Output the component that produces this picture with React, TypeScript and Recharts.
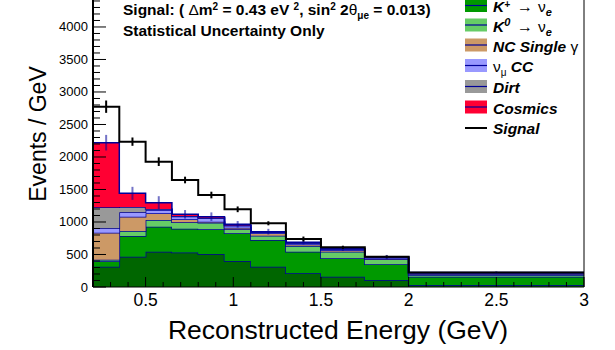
import React from 'react';
import { ComposedChart, Area, Line, Scatter, ErrorBar, XAxis, YAxis, ReferenceLine } from 'recharts';

// Bin edges (GeV) and per-sample events / GeV
const binEdges = [0.2, 0.35, 0.5, 0.65, 0.8, 0.95, 1.1, 1.3, 1.5, 1.75, 2.0, 3.0];
const muNue = [310, 467, 543, 530, 508, 400, 312, 210, 159, 108, 31];
const kPlusNue = [85, 318, 385, 365, 382, 426, 411, 333, 282, 241, 128];
const kZeroNue = [25, 77, 103, 100, 100, 62, 66, 88, 102, 77, 26];
const ncSingleGamma = [415, 220, 102, 46, 15, 24, 37, 24, 22, 14, 15];
const numuCC = [68, 67, 52, 44, 51, 31, 15, 15, 20, 15, 18];
const dirt = [323, 81, 15, 7, 9, 7, 4, 5, 3, 3, 2];
const cosmics = [994, 211, 97, 26, 17, 14, 6, 12, 4, 2, 2];
const signal = [554, 795, 631, 528, 333, 231, 129, 51, 18, 4, 2];
const bgError = [120, 100, 100, 66, 66, 51, 44, 33, 38, 33, 15];
const totalError = [95, 64, 67, 51, 51, 44, 31, 38, 25, 20, 10];

const xTicks = [0.2, 0.3, 0.4, 0.5, 0.6, 0.7, 0.8, 0.9, 1, 1.1, 1.2, 1.3, 1.4, 1.5, 1.6, 1.7, 1.8, 1.9, 2,
  2.1, 2.2, 2.3, 2.4, 2.5, 2.6, 2.7, 2.8, 2.9, 3];
const yMajorTicks = [0, 500, 1000, 1500, 2000, 2500, 3000, 3500, 4000];
const yTicks = Array.from({ length: 45 }, (_, i) => i * 100);

const FONT = '"Liberation Sans", Arial, Helvetica, sans-serif';
const OUTLINE = '#000099';

const series = [
  { key: 'muNue', values: muNue, color: '#006600' },
  { key: 'kPlusNue', values: kPlusNue, color: '#009900' },
  { key: 'kZeroNue', values: kZeroNue, color: '#66cc66' },
  { key: 'ncSingleGamma', values: ncSingleGamma, color: '#cc9966' },
  { key: 'numuCC', values: numuCC, color: '#9999ff' },
  { key: 'dirt', values: dirt, color: '#999999' },
  { key: 'cosmics', values: cosmics, color: '#ff0033' },
];

// one row per bin lower edge, plus a closing row at the last edge
const rows = binEdges.map((edge, i) => {
  const b = Math.min(i, signal.length - 1);
  const row: Record<string, number> = { x: edge };
  let bg = 0;
  series.forEach(s => {
    row[s.key] = s.values[b];
    bg += s.values[b];
  });
  row.background = bg;
  row.total = bg + signal[b];
  return row;
});

const binRows = rows.slice(0, signal.length).map((r, i) => ({
  center: (binEdges[i] + binEdges[i + 1]) / 2,
  background: r.background,
  total: r.total,
}));
const bgPoints = binRows.map((r, i) => ({ x: r.center, y: r.background, err: bgError[i] }));
const totalPoints = binRows.map((r, i) => ({ x: r.center, y: r.total, err: totalError[i] }));

const YTick = (props: any) => {
  const { x, y, payload } = props;
  const v = payload.value;
  const major = yMajorTicks.includes(v);
  return (
    <g>
      <line x1={x} x2={x + (major ? 13 : 7)} y1={y} y2={y} stroke="#000" strokeWidth={1} />
      {major && (
        <text x={x - 5} y={y + 4.5} textAnchor="end" fontSize={13} fill="#000" fontFamily={FONT}>
          {v}
        </text>
      )}
    </g>
  );
};

const XTick = (props: any) => {
  const { x, y, payload } = props;
  const v = payload.value;
  const major = Math.abs(v * 2 - Math.round(v * 2)) < 1e-6;
  return (
    <g>
      <line x1={x} x2={x} y1={y} y2={y - (major ? 10 : 5)} stroke="#000" strokeWidth={1} />
      {major && (
        <text x={x} y={y + 18.5} textAnchor="middle" fontSize={17.5} fill="#000" fontFamily={FONT}>
          {String(v)}
        </text>
      )}
    </g>
  );
};

const hidden = () => <g />;

const legendItems = [
  { color: '#009900', base: 12, name: 'kplus' },
  { color: '#66cc66', base: 31.5, name: 'kzero' },
  { color: '#cc9966', base: 51.5, name: 'nc' },
  { color: '#9999ff', base: 72, name: 'numu' },
  { color: '#999999', base: 93, name: 'dirt' },
  { color: '#ff0033', base: 113.5, name: 'cosmics' },
  { color: null, base: 134, name: 'signal' },
];

function LegendLabel({ name, base }: { name: string; base: number }) {
  const common = { x: 493, y: base, fontSize: 15.5, fontWeight: 'bold', fontStyle: 'italic', fontFamily: FONT, fill: '#000' } as any;
  const arrowNu = (
    <>
      <tspan x={517} fontWeight="normal" fontStyle="normal" fontSize={16}>→</tspan>
      <tspan x={538} fontWeight="normal" fontStyle="normal">ν</tspan>
      <tspan dy={4} fontSize={11}>e</tspan>
    </>
  );
  if (name === 'kplus') {
    return (
      <text {...common}>
        K<tspan dy={-4} fontSize={10}>+</tspan><tspan dy={4}> </tspan>
        {arrowNu}
      </text>
    );
  }
  if (name === 'kzero') {
    return (
      <text {...common}>
        K<tspan dy={-6} fontSize={11}>0</tspan><tspan dy={6}> </tspan>
        {arrowNu}
      </text>
    );
  }
  if (name === 'nc') {
    return (
      <text {...common}>
        NC Single <tspan fontWeight="normal" fontStyle="normal">γ</tspan>
      </text>
    );
  }
  if (name === 'numu') {
    return (
      <text {...common}>
        <tspan fontWeight="normal" fontStyle="normal">ν</tspan>
        <tspan dy={4} fontSize={10} fontWeight="normal" fontStyle="normal">μ</tspan>
        <tspan dy={-4}> CC</tspan>
      </text>
    );
  }
  const label = name === 'dirt' ? 'Dirt' : name === 'cosmics' ? 'Cosmics' : 'Signal';
  return <text {...common}>{label}</text>;
}

function Overlay() {
  return (
    <svg width={615} height={350} style={{ position: 'absolute', left: 0, top: 0, pointerEvents: 'none' }}>
      <text x={123} y={14.5} fontSize={15.5} fontWeight="bold" fontFamily={FONT} fill="#000">
        <tspan>Signal: ( </tspan>
        <tspan fontWeight="normal">Δ</tspan>
        <tspan>m</tspan>
        <tspan dy={-5} fontSize={10}>2</tspan>
        <tspan dy={5}> = 0.43 eV </tspan>
        <tspan dy={-5} fontSize={10}>2</tspan>
        <tspan dy={5}>, sin</tspan>
        <tspan dy={-5} fontSize={10}>2</tspan>
        <tspan dy={5}> 2</tspan>
        <tspan fontWeight="normal">θ</tspan>
        <tspan dy={4} fontSize={10}>μe</tspan>
        <tspan dy={-4}> = 0.013)</tspan>
      </text>
      <text x={123} y={35.5} fontSize={15.5} fontWeight="bold" fontFamily={FONT} fill="#000">
        Statistical Uncertainty Only
      </text>

      {legendItems.map(item => (
        <g key={item.name}>
          {item.color ? (
            <>
              <rect x={465} y={item.base - 13} width={22} height={13} fill={item.color} />
              <line x1={465} x2={487} y1={item.base - 6.5} y2={item.base - 6.5} stroke={OUTLINE} strokeWidth={1.2} />
            </>
          ) : (
            <line x1={465} x2={487} y1={item.base - 6} y2={item.base - 6} stroke="#000" strokeWidth={2} />
          )}
          <LegendLabel name={item.name} base={item.base} />
        </g>
      ))}

      <text
        transform="translate(46,134) rotate(-90)"
        textAnchor="middle"
        fontSize={23}
        fontFamily={FONT}
        fill="#000"
      >
        Events / GeV
      </text>
      <text x={338} y={339} textAnchor="middle" fontSize={26.5} fontFamily={FONT} fill="#000">
        Reconstructed Energy (GeV)
      </text>
    </svg>
  );
}

export default function App() {
  return (
    <div style={{ position: 'absolute', left: 0, top: 0, width: 615, height: 350, background: '#fff' }}>
      <ComposedChart width={615} height={350} data={rows} margin={{ top: 0, right: 31, bottom: 0, left: 0 }}>
        {series.map(s => (
          <Area
            key={s.key}
            type="stepAfter"
            dataKey={s.key}
            stackId="bg"
            fill={s.color}
            fillOpacity={1}
            stroke={OUTLINE}
            strokeWidth={1.5}
            isAnimationActive={false}
            dot={false}
            activeDot={false}
          />
        ))}
        <Line
          type="stepAfter"
          dataKey="total"
          stroke="#000"
          strokeWidth={2}
          dot={false}
          activeDot={false}
          isAnimationActive={false}
        />
        <Scatter data={bgPoints} dataKey="y" shape={hidden} isAnimationActive={false}>
          <ErrorBar dataKey="err" direction="y" width={0} stroke={OUTLINE} strokeOpacity={0.55} strokeWidth={2} />
        </Scatter>
        <Scatter data={totalPoints} dataKey="y" shape={hidden} isAnimationActive={false}>
          <ErrorBar dataKey="err" direction="y" width={0} stroke="#000" strokeWidth={2} />
        </Scatter>
        <ReferenceLine x={3} stroke="#000" strokeWidth={1} />
        <XAxis
          dataKey="x"
          type="number"
          domain={[0.2, 3]}
          ticks={xTicks}
          interval={0}
          allowDataOverflow
          height={63}
          tickSize={0}
          tickMargin={0}
          tickLine={false}
          tick={<XTick />}
          axisLine={{ stroke: '#000', strokeWidth: 1 }}
        />
        <YAxis
          type="number"
          domain={[0, 4415]}
          ticks={yTicks}
          interval={0}
          allowDataOverflow
          width={93}
          tickSize={0}
          tickMargin={0}
          tickLine={false}
          tick={<YTick />}
          axisLine={{ stroke: '#000', strokeWidth: 2 }}
        />
      </ComposedChart>
      <Overlay />
    </div>
  );
}
